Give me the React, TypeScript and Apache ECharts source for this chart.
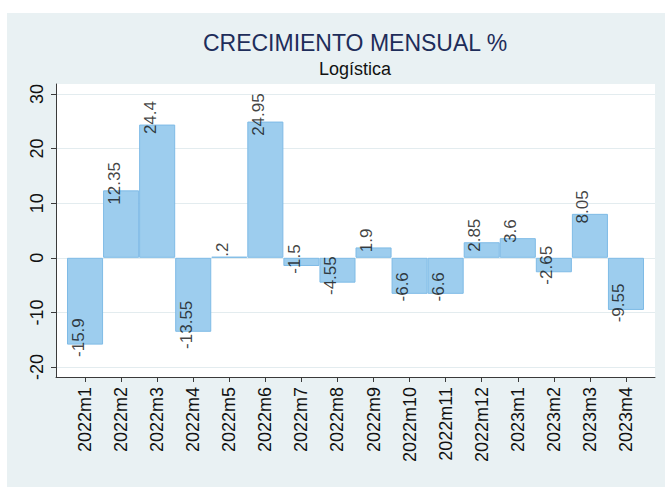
import React, { useEffect, useRef } from "react";
import * as echarts from "echarts";

const categories = [
  "2022m1", "2022m2", "2022m3", "2022m4", "2022m5", "2022m6", "2022m7", "2022m8",
  "2022m9", "2022m10", "2022m11", "2022m12", "2023m1", "2023m2", "2023m3", "2023m4",
];
const growth = [-15.9, 12.35, 24.4, -13.55, 0.2, 24.95, -1.5, -4.55, 1.9, -6.6, -6.6, 2.85, 3.6, -2.65, 8.05, -9.55];
const yTickMin = -20;
const yTickMax = 30;
const yTickStep = 10;
const titleText = "CRECIMIENTO MENSUAL %";
const subtitleText = "Logística";

const FONT = "'Liberation Sans', Arial, Helvetica, sans-serif";

function stataFmt(v: number): string {
  return String(v).replace(/^(-?)0\./, "$1.");
}

export default function App() {
  const ref = useRef<HTMLDivElement>(null);
  useEffect(() => {
    if (!ref.current) return;
    const chart = echarts.init(ref.current, undefined, { renderer: "svg" });
    const axisColor = "#3a3a3a";
    chart.setOption({
      animation: false,
      backgroundColor: "#ffffff",
      graphic: [
        {
          type: "rect",
          z: -10,
          shape: { x: 7, y: 13, width: 658, height: 474 },
          style: { fill: "#e9f1f3" },
          silent: true,
        },
        {
          type: "text",
          x: 355,
          y: 31,
          style: {
            text: titleText,
            textAlign: "center",
            textVerticalAlign: "top",
            font: `23px ${FONT}`,
            fill: "#1e2d5a",
          },
        },
        {
          type: "text",
          x: 355,
          y: 60,
          style: {
            text: subtitleText,
            textAlign: "center",
            textVerticalAlign: "top",
            font: `18px ${FONT}`,
            fill: "#111111",
          },
        },
      ],
      grid: [
        // plot region frame (white background + axis lines)
        { left: 56, right: 10, top: 84, bottom: 110, show: true, backgroundColor: "#ffffff", borderWidth: 0 },
        // y scale: ticks, labels, grid lines
        { left: 56, right: 10, top: 94, bottom: 120 },
        // bars and categories
        { left: 67, right: 21, top: 94, bottom: 120 },
      ],
      xAxis: [
        {
          type: "value",
          gridIndex: 0,
          min: 0,
          max: 1,
          axisLine: { show: true, onZero: false, lineStyle: { color: axisColor, width: 1 } },
          axisTick: { show: false },
          axisLabel: { show: false },
          splitLine: { show: false },
        },
        {
          type: "value",
          gridIndex: 1,
          min: 0,
          max: 1,
          show: false,
        },
        {
          type: "category",
          gridIndex: 2,
          data: categories,
          boundaryGap: true,
          offset: 10,
          axisLine: { show: false, onZero: false },
          axisTick: { show: true, alignWithLabel: true, length: 5, lineStyle: { color: axisColor } },
          axisLabel: {
            rotate: 90,
            margin: 10,
            fontSize: 18,
            fontFamily: FONT,
            color: "#111111",
            interval: 0,
          },
          splitLine: { show: false },
        },
      ],
      yAxis: [
        {
          type: "value",
          gridIndex: 0,
          min: 0,
          max: 1,
          axisLine: { show: true, onZero: false, lineStyle: { color: axisColor, width: 1 } },
          axisTick: { show: false },
          axisLabel: { show: false },
          splitLine: { show: false },
        },
        {
          type: "value",
          gridIndex: 1,
          min: yTickMin,
          max: yTickMax,
          interval: yTickStep,
          axisLine: { show: false, onZero: false },
          axisTick: { show: true, length: 5, lineStyle: { color: axisColor } },
          axisLabel: {
            rotate: 90,
            margin: 10,
            fontSize: 18,
            fontFamily: FONT,
            color: "#111111",
          },
          splitLine: { show: true, lineStyle: { color: "#e3ecef", width: 1 } },
        },
        {
          type: "value",
          gridIndex: 2,
          min: yTickMin,
          max: yTickMax,
          interval: yTickStep,
          show: false,
          splitLine: { show: false },
        },
      ],
      series: [
        {
          type: "bar",
          xAxisIndex: 2,
          yAxisIndex: 2,
          data: growth,
          barCategoryGap: "0%",
          barGap: "0%",
          itemStyle: { color: "#9dcdee", borderColor: "#7fbbe6", borderWidth: 1 },
        },
        {
          type: "scatter",
          xAxisIndex: 2,
          yAxisIndex: 2,
          data: growth,
          symbolSize: 2,
          itemStyle: { color: "rgba(0,0,0,0)" },
          label: {
            show: true,
            position: "inside",
            rotate: 90,
            offset: [7, -7],
            align: "center",
            verticalAlign: "middle",
            fontSize: 17,
            fontFamily: FONT,
            color: "#111111",
            formatter: (p: any) => stataFmt(p.value),
          },
        },
      ],
    });
    return () => chart.dispose();
  }, []);
  return (
    <div
      ref={ref}
      style={{ position: "fixed", left: 0, top: 0, width: 665, height: 487 }}
    />
  );
}
